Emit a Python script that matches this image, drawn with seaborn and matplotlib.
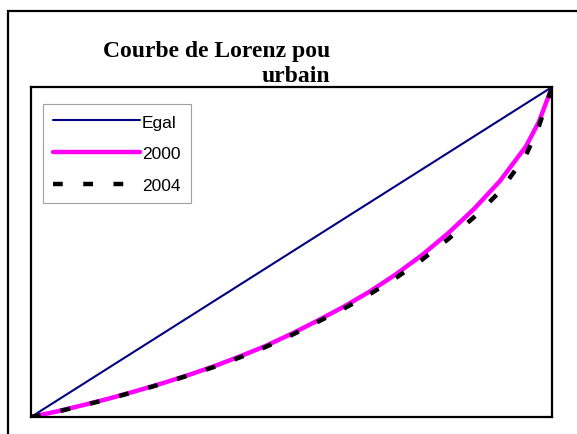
import numpy as np
import pandas as pd
import matplotlib
matplotlib.use("Agg")
import matplotlib.pyplot as plt
from matplotlib.patches import Rectangle
import seaborn as sns

# Lorenz curve values (cumulative share of population vs. share of income)
pop_share = [0.00, 0.05, 0.10, 0.15, 0.20, 0.25, 0.30, 0.35, 0.40, 0.45, 0.50,
             0.55, 0.60, 0.65, 0.70, 0.75, 0.80, 0.85, 0.90, 0.95, 0.975, 1.00]
egal = list(pop_share)
rev_2000 = [0.000, 0.017, 0.036, 0.056, 0.078, 0.101, 0.126, 0.153, 0.183, 0.215, 0.252,
            0.292, 0.334, 0.380, 0.432, 0.490, 0.556, 0.630, 0.715, 0.820, 0.895, 1.000]
rev_2004 = [0.000, 0.016, 0.035, 0.055, 0.077, 0.100, 0.125, 0.151, 0.180, 0.212, 0.248,
            0.288, 0.328, 0.372, 0.421, 0.476, 0.538, 0.605, 0.683, 0.793, 0.882, 1.000]
labels = ["Egal", "2000", "2004"]

W, H = 577, 435

sns.set_style("white")
plt.rcParams["font.family"] = ["Liberation Sans", "DejaVu Sans"]

fig = plt.figure(figsize=(W / 100, H / 100), dpi=100)
fig.patch.set_facecolor("white")

# outer chart frame (cut at right and bottom in the reference)
fig.add_artist(Rectangle((8 / W, -0.05), 1.1, 1 - 12 / H + 0.05,
                         transform=fig.transFigure, fill=False,
                         lw=1.6, ec="black"))

ax = fig.add_axes([31 / W, 1 - 418 / H, 521 / W, 330 / H])

df = pd.DataFrame({"x": pop_share, "egal": egal, "y2000": rev_2000, "y2004": rev_2004})
sns.lineplot(data=df, x="x", y="egal", ax=ax, color="#000080", lw=1.5, label=labels[0])
sns.lineplot(data=df, x="x", y="y2000", ax=ax, color="#ff00ff", lw=3.2, label=labels[1])
sns.lineplot(data=df, x="x", y="y2004", ax=ax, color="black", lw=3.2,
             linestyle=(0, (2.2, 4.6)), label=labels[2])

ax.set_xlim(0, 1)
ax.set_ylim(0, 1)
ax.set_xticks([])
ax.set_yticks([])
ax.set_xlabel("")
ax.set_ylabel("")
for sp in ax.spines.values():
    sp.set_visible(True)
    sp.set_color("black")
    sp.set_linewidth(1.6)

leg = ax.legend(loc="upper left", bbox_to_anchor=(43 / W, 1 - 105 / H),
                bbox_transform=fig.transFigure, borderaxespad=0,
                frameon=True, fancybox=False, framealpha=1,
                fontsize=12.5, handlelength=5.0, handletextpad=0.1,
                labelspacing=0.95, borderpad=0.6)
leg.get_frame().set_edgecolor("#a0a0a0")
leg.get_frame().set_linewidth(0.8)
for t in leg.get_texts():
    t.set_color("black")

title_kw = dict(family=["Liberation Serif", "DejaVu Serif"], weight="bold",
                fontsize=17, va="baseline", ha="left", color="black")
fig.text(103 / W, 1 - 57 / H, "Courbe de Lorenz pou", **title_kw)
fig.text(262 / W, 1 - 82 / H, "urbain", **title_kw)

fig.savefig("out.png", dpi=100, facecolor="white")
